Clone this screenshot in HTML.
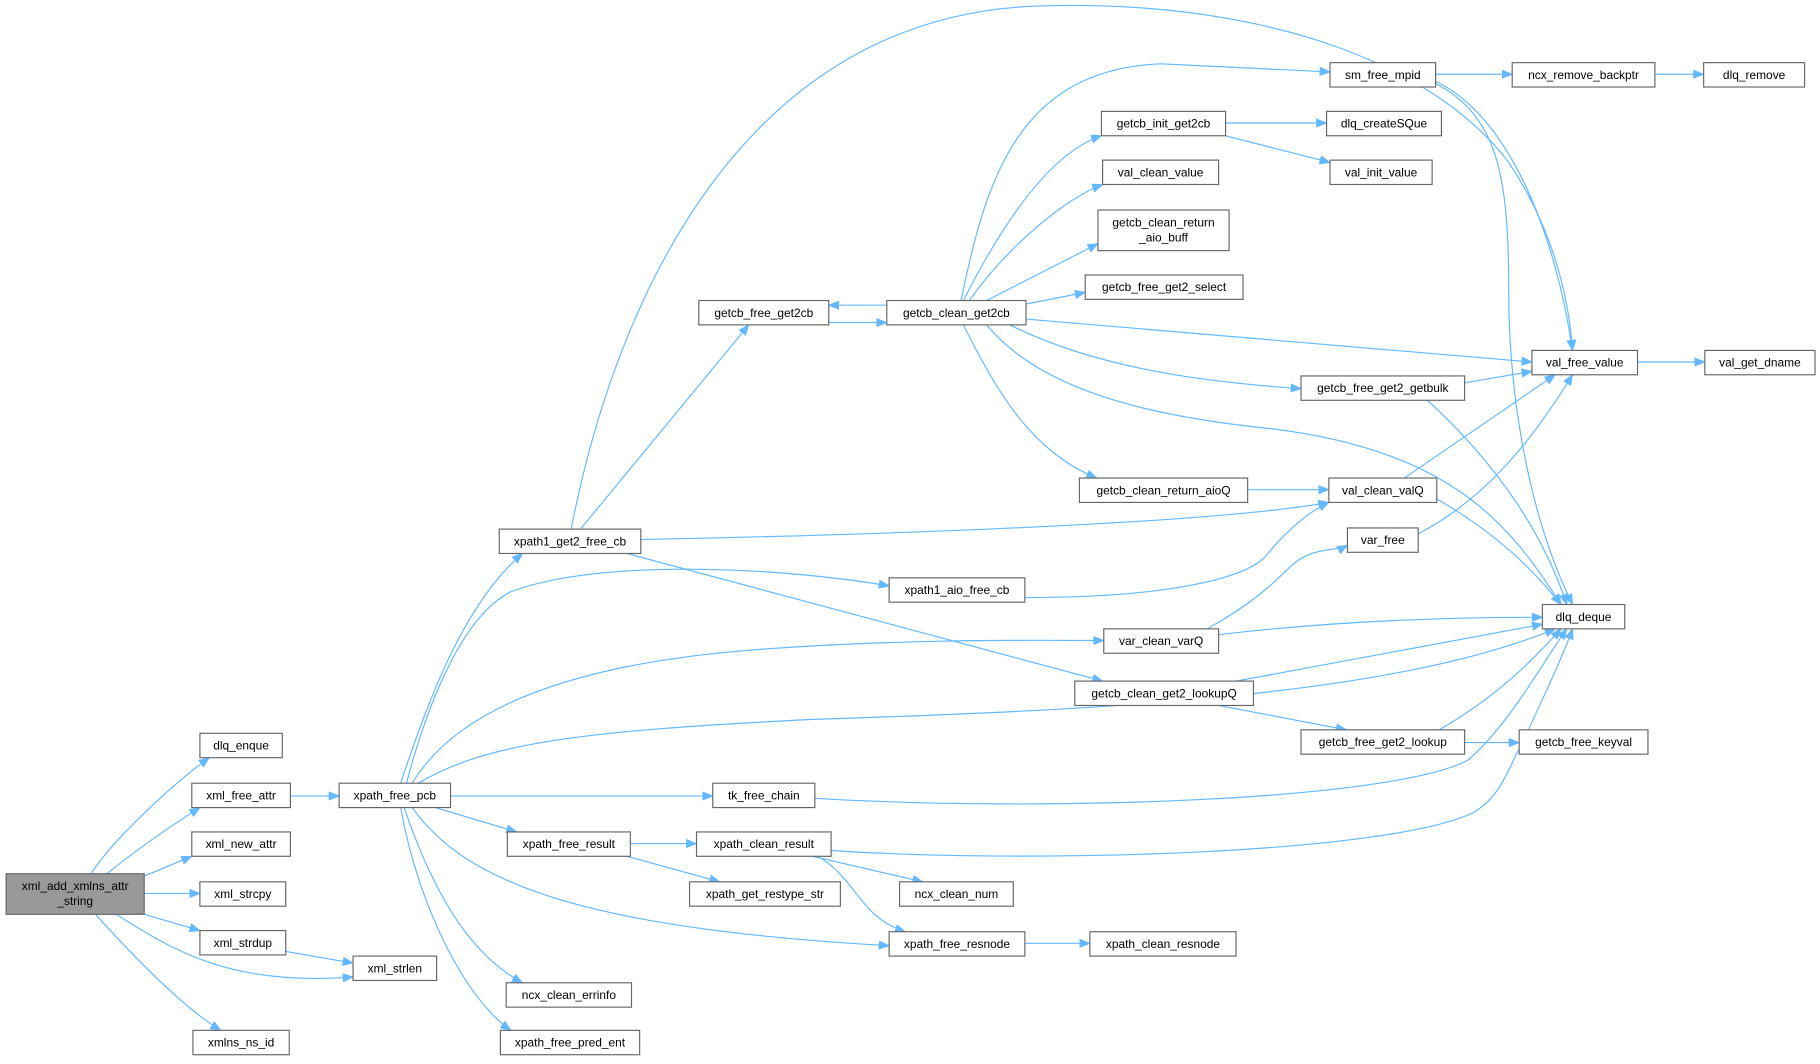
<!DOCTYPE html>
<html><head><meta charset="utf-8"><style>
html,body{margin:0;padding:0;background:#fff}
svg{display:block}
text{font-family:"Liberation Sans",Arial,sans-serif;font-size:10.3px;fill:#000;text-anchor:middle}
.n{fill:#fff;stroke:#666;stroke-width:1}
.e{fill:none;stroke:#63b8ff;stroke-width:1}
</style></head><body>
<svg width="1820" height="1064" viewBox="0 0 1568 917" xmlns="http://www.w3.org/2000/svg">
<defs><marker id="a" markerUnits="userSpaceOnUse" markerWidth="10" markerHeight="8" refX="9" refY="4" orient="auto"><path d="M0,0 L10,4 L0,8 z" fill="#63b8ff"/></marker></defs>
<g class="e" marker-end="url(#a)">
<path d="M78,753 C100,720 150,675 180,653"/>
<path d="M92,753 C120,730 150,710 172,696"/>
<path d="M124,755 L165,738"/>
<path d="M124,770 L172,770"/>
<path d="M124,788 L172,802"/>
<path d="M100,788 C150,820 200,850 304,842"/>
<path d="M82,788 C120,830 160,870 190,888"/>
<path d="M246,820 L304,830"/>
<path d="M250,686 L292,686"/>
<path d="M345,675 C370,600 400,520 450,477"/>
<path d="M350,675 C370,600 400,530 440,510 C520,480 680,490 766,505"/>
<path d="M355,675 C400,600 520,570 650,560 C780,550 900,552 951,552"/>
<path d="M360,675 C420,640 500,630 700,620 C950,612 1200,600 1340,542"/>
<path d="M388,686 L614,686"/>
<path d="M375,696 L445,717"/>
<path d="M355,696 C400,760 500,800 766,815"/>
<path d="M348,696 C370,760 400,820 450,847"/>
<path d="M345,696 C360,780 400,860 440,888"/>
<path d="M500,456 L645,280"/>
<path d="M492,456 C530,260 640,10 900,5 C1100,0 1240,60 1300,140 C1340,200 1352,260 1355,302"/>
<path d="M552,465 C800,460 1050,450 1145,433"/>
<path d="M540,477 L950,587"/>
<path d="M714,278 L764,278"/>
<path d="M764,263 L714,263"/>
<path d="M828,259 C850,150 880,60 1000,55 L1146,62"/>
<path d="M830,259 C870,180 910,130 949,117"/>
<path d="M835,259 C870,210 920,170 950,159"/>
<path d="M850,259 L946,210"/>
<path d="M884,262 L935,252"/>
<path d="M884,275 L1320,312"/>
<path d="M870,280 C950,320 1050,330 1121,335"/>
<path d="M850,280 C900,340 1000,360 1100,370 C1250,390 1300,450 1345,521"/>
<path d="M830,280 C860,340 890,390 945,412"/>
<path d="M1237,64 L1303,64"/>
<path d="M1237,70 C1300,100 1340,200 1355,302"/>
<path d="M1237,72 C1290,100 1300,150 1300,250 C1300,350 1320,450 1355,521"/>
<path d="M1426,64 L1468,64"/>
<path d="M1056,106 L1143,106"/>
<path d="M1056,117 L1146,140"/>
<path d="M1411,312 L1469,312"/>
<path d="M1262,330 L1320,320"/>
<path d="M1230,345 C1290,400 1330,460 1350,521"/>
<path d="M1075,422 L1145,422"/>
<path d="M1210,412 L1340,323"/>
<path d="M1238,430 C1290,460 1320,490 1345,521"/>
<path d="M1222,460 C1280,430 1320,380 1355,323"/>
<path d="M883,515 C1000,515 1070,500 1090,480 C1110,455 1130,440 1145,433"/>
<path d="M1040,542 C1080,520 1100,500 1110,490 C1130,470 1150,476 1161,470"/>
<path d="M1050,547 C1150,535 1250,532 1329,532"/>
<path d="M1065,587 L1329,538"/>
<path d="M1050,608 L1160,629"/>
<path d="M1262,640 L1309,640"/>
<path d="M1240,629 C1290,600 1320,570 1345,542"/>
<path d="M702,688 C900,700 1200,690 1265,655 C1300,625 1330,570 1350,542"/>
<path d="M543,727 L600,727"/>
<path d="M540,738 L620,760"/>
<path d="M716,733 C900,745 1200,735 1270,700 C1295,685 1300,660 1312,640 C1330,600 1345,570 1355,542"/>
<path d="M700,738 L795,760"/>
<path d="M705,738 C740,760 740,790 780,803"/>
<path d="M883,813 L939,813"/>
</g>
<rect x="5" y="753" width="119" height="35" fill="#999" stroke="#666"/>
<text x="64.5" y="767">xml_add_xmlns_attr</text><text x="64.5" y="780">_string</text>
<g>
<rect class="n" x="172" y="632" width="71" height="21"/><text x="207.5" y="646">dlq_enque</text>
<rect class="n" x="165" y="675" width="85" height="21"/><text x="207.5" y="689">xml_free_attr</text>
<rect class="n" x="165" y="717" width="85" height="21"/><text x="207.5" y="731">xml_new_attr</text>
<rect class="n" x="172" y="760" width="74" height="21"/><text x="209" y="774">xml_strcpy</text>
<rect class="n" x="172" y="802" width="74" height="21"/><text x="209" y="816">xml_strdup</text>
<rect class="n" x="304" y="824" width="72" height="21"/><text x="340" y="838">xml_strlen</text>
<rect class="n" x="166" y="888" width="83" height="21"/><text x="207.5" y="902">xmlns_ns_id</text>
<rect class="n" x="292" y="675" width="96" height="21"/><text x="340" y="689">xpath_free_pcb</text>
<rect class="n" x="430" y="456" width="122" height="21"/><text x="491" y="470">xpath1_get2_free_cb</text>
<rect class="n" x="602" y="259" width="112" height="21"/><text x="658" y="273">getcb_free_get2cb</text>
<rect class="n" x="764" y="259" width="120" height="21"/><text x="824" y="273">getcb_clean_get2cb</text>
<rect class="n" x="1146" y="54" width="91" height="21"/><text x="1191.5" y="68">sm_free_mpid</text>
<rect class="n" x="949" y="96" width="107" height="21"/><text x="1002.5" y="110">getcb_init_get2cb</text>
<rect class="n" x="1143" y="96" width="99" height="21"/><text x="1192.5" y="110">dlq_createSQue</text>
<rect class="n" x="1146" y="138" width="88" height="21"/><text x="1190" y="152">val_init_value</text>
<rect class="n" x="950" y="138" width="100" height="21"/><text x="1000" y="152">val_clean_value</text>
<rect class="n" x="946" y="181" width="113" height="35"/><text x="1002.5" y="195">getcb_clean_return</text><text x="1002.5" y="208">_aio_buff</text>
<rect class="n" x="935" y="237" width="136" height="21"/><text x="1003" y="251">getcb_free_get2_select</text>
<rect class="n" x="1303" y="54" width="123" height="21"/><text x="1364.5" y="68">ncx_remove_backptr</text>
<rect class="n" x="1468" y="54" width="87" height="21"/><text x="1511.5" y="68">dlq_remove</text>
<rect class="n" x="1320" y="302" width="91" height="21"/><text x="1365.5" y="316">val_free_value</text>
<rect class="n" x="1469" y="302" width="95" height="21"/><text x="1516.5" y="316">val_get_dname</text>
<rect class="n" x="1121" y="324" width="141" height="21"/><text x="1191.5" y="338">getcb_free_get2_getbulk</text>
<rect class="n" x="930" y="412" width="145" height="21"/><text x="1002.5" y="426">getcb_clean_return_aioQ</text>
<rect class="n" x="1145" y="412" width="93" height="21"/><text x="1191.5" y="426">val_clean_valQ</text>
<rect class="n" x="1161" y="455" width="61" height="21"/><text x="1191.5" y="469">var_free</text>
<rect class="n" x="766" y="498" width="117" height="21"/><text x="824.5" y="512">xpath1_aio_free_cb</text>
<rect class="n" x="1329" y="521" width="71" height="21"/><text x="1364.5" y="535">dlq_deque</text>
<rect class="n" x="951" y="542" width="99" height="21"/><text x="1000.5" y="556">var_clean_varQ</text>
<rect class="n" x="926" y="587" width="154" height="21"/><text x="1003" y="601">getcb_clean_get2_lookupQ</text>
<rect class="n" x="1121" y="629" width="141" height="21"/><text x="1191.5" y="643">getcb_free_get2_lookup</text>
<rect class="n" x="1309" y="629" width="111" height="21"/><text x="1364.5" y="643">getcb_free_keyval</text>
<rect class="n" x="614" y="675" width="88" height="21"/><text x="658" y="689">tk_free_chain</text>
<rect class="n" x="437" y="717" width="106" height="21"/><text x="490" y="731">xpath_free_result</text>
<rect class="n" x="600" y="717" width="116" height="21"/><text x="658" y="731">xpath_clean_result</text>
<rect class="n" x="594" y="760" width="130" height="21"/><text x="659" y="774">xpath_get_restype_str</text>
<rect class="n" x="775" y="760" width="98" height="21"/><text x="824" y="774">ncx_clean_num</text>
<rect class="n" x="766" y="803" width="117" height="21"/><text x="824.5" y="817">xpath_free_resnode</text>
<rect class="n" x="939" y="803" width="126" height="21"/><text x="1002" y="817">xpath_clean_resnode</text>
<rect class="n" x="436" y="847" width="108" height="21"/><text x="490" y="861">ncx_clean_errinfo</text>
<rect class="n" x="431" y="888" width="120" height="21"/><text x="491" y="902">xpath_free_pred_ent</text>
</g>
</svg>
</body></html>
